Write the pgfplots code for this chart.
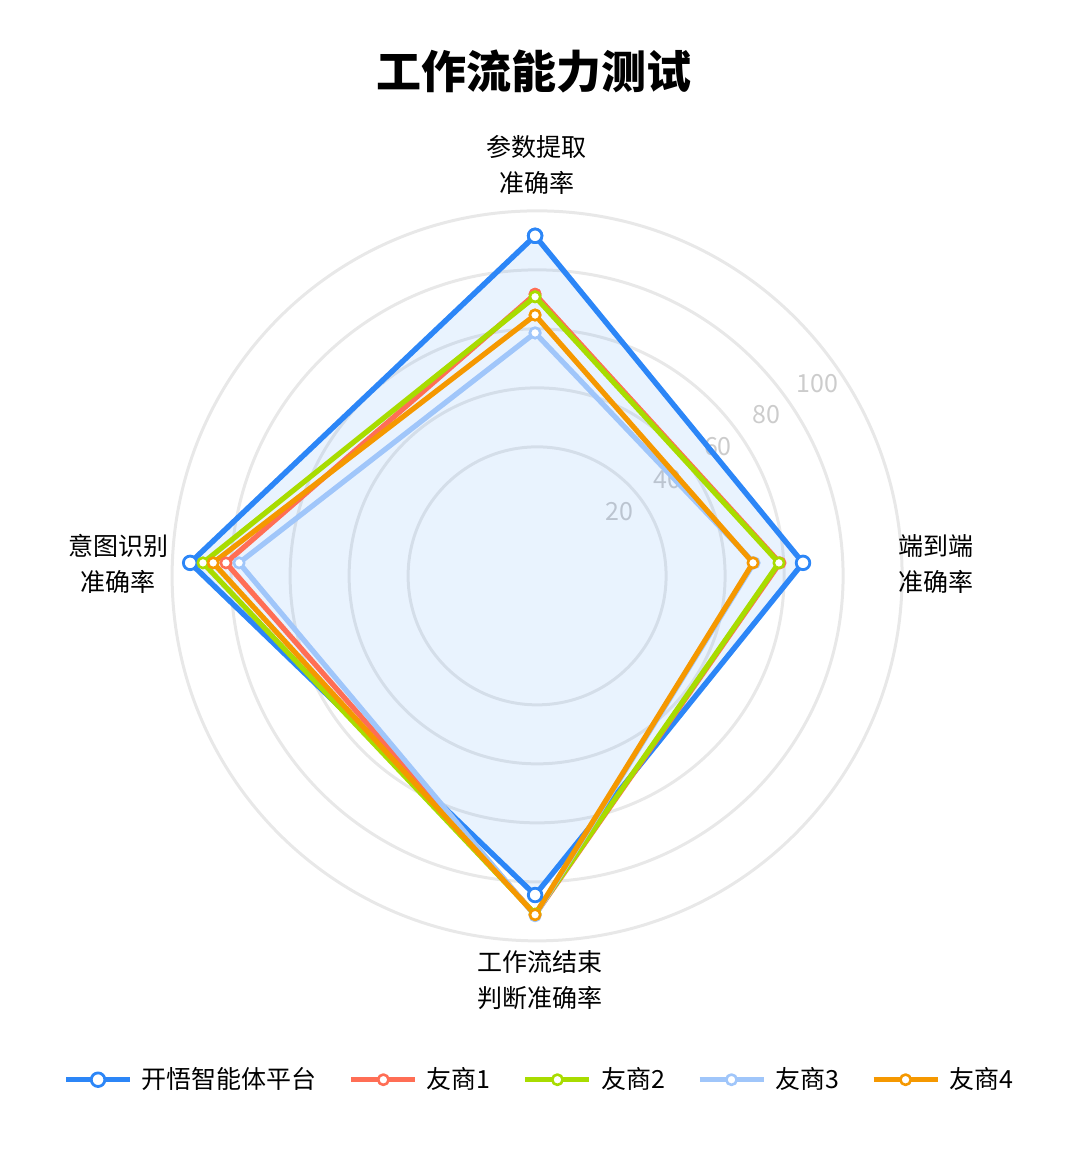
\documentclass[border=0pt]{standalone}
\usepackage{fontspec}
\setmainfont{Noto Sans CJK SC}
\usepackage{pgfplots}
\pgfplotsset{compat=1.18}

\definecolor{kaiwu}{RGB}{44,134,247}
\definecolor{ys1}{RGB}{255,110,85}
\definecolor{ys2}{RGB}{168,220,0}
\definecolor{ys3}{RGB}{160,198,250}
\definecolor{ys4}{RGB}{245,152,0}
\definecolor{gridc}{RGB}{232,232,232}
\definecolor{tickc}{RGB}{204,204,204}

\pgfplotsset{
  radar/.style={data cs=polar, line width=2.6pt, line join=round,
    mark=*, mark size=2.6pt, mark options={fill=white, line width=1.3pt}},
}

\begin{document}
\begin{tikzpicture}
\useasboundingbox (0,0) rectangle (540pt,578pt);
\begin{axis}[
  at={(0,0)}, anchor=south west,
  x=1.825pt, y=1.825pt,
  xmin=-146.6, xmax=149.3, ymin=-162.5, ymax=154.2,
  hide axis, clip=false,
  legend columns=5,
  legend image code/.code={
    \draw[mark repeat=2, mark phase=2, #1]
      plot coordinates {(0pt,0pt) (16pt,0pt) (32pt,0pt)};
  },
  legend style={
    at={(axis cs:1.4,-141.6)}, anchor=center,
    draw=none, fill=none,
    font=\fontsize{12.5}{15}\selectfont,
    /tikz/every odd column/.append style={column sep=2.5pt},
    /tikz/every even column/.append style={column sep=14pt},
  },
]
% background rings
\draw[gridc, line width=1.5pt] (axis cs:0.55,-3.56) circle[radius=64.5pt];
\draw[gridc, line width=1.5pt] (axis cs:0.55,-3.56) circle[radius=94pt];
\draw[gridc, line width=1.5pt] (axis cs:0.55,-3.56) circle[radius=123.5pt];
\draw[gridc, line width=1.5pt] (axis cs:0.55,-3.56) circle[radius=153pt];
\draw[gridc, line width=1.5pt] (axis cs:0.55,-3.56) circle[radius=182.5pt];

% ring labels
\begin{scope}[every node/.style={text=tickc, font=\fontsize{12.5}{15}\selectfont}]
\node at (axis cs:23.0,14.0) {20};
\node at (axis cs:36.2,22.7) {40};
\node at (axis cs:50.1,31.8) {60};
\node at (axis cs:63.3,40.5) {80};
\node at (axis cs:77.3,49.0) {100};
\end{scope}

% area of the own platform
\addplot[forget plot, draw=none, fill=kaiwu, fill opacity=0.1, data cs=polar]
  coordinates {(90,89.6) (0,73.4) (270,91.0) (180,94.5)};

\addplot[radar, kaiwu, line width=2.7pt, mark size=3.4pt,
  mark options={fill=white, line width=1.4pt}]
  coordinates {(90,89.6) (0,73.4) (270,91.0) (180,94.5) (90,89.6)};
\addplot[radar, ys1]
  coordinates {(90,73.6) (0,67.1) (270,96.4) (180,84.7) (90,73.6)};
\addplot[radar, ys2]
  coordinates {(90,72.9) (0,66.8) (270,96.2) (180,91.0) (90,72.9)};
\addplot[radar, ys3]
  coordinates {(90,63.0) (0,60.0) (270,96.7) (180,81.1) (90,63.0)};
\addplot[radar, ys4]
  coordinates {(90,67.9) (0,59.7) (270,96.4) (180,88.2) (90,67.9)};
\legend{开悟智能体平台, 友商1, 友商2, 友商3, 友商4}

% title and indicator names
\node[font=\fontsize{22.5}{27}\selectfont\bfseries] at (axis cs:-0.3,134.5) {工作流能力测试};
\begin{scope}[every node/.style={align=center, font=\fontsize{12.5}{18}\selectfont}]
\node at (axis cs:0.5,109.0) {参数提取\\准确率};
\node at (axis cs:109.9,-0.3) {端到端\\准确率};
\node at (axis cs:1.4,-114.2) {工作流结束\\判断准确率};
\node at (axis cs:-114.2,-0.3) {意图识别\\准确率};
\end{scope}
\end{axis}
\end{tikzpicture}
\end{document}
